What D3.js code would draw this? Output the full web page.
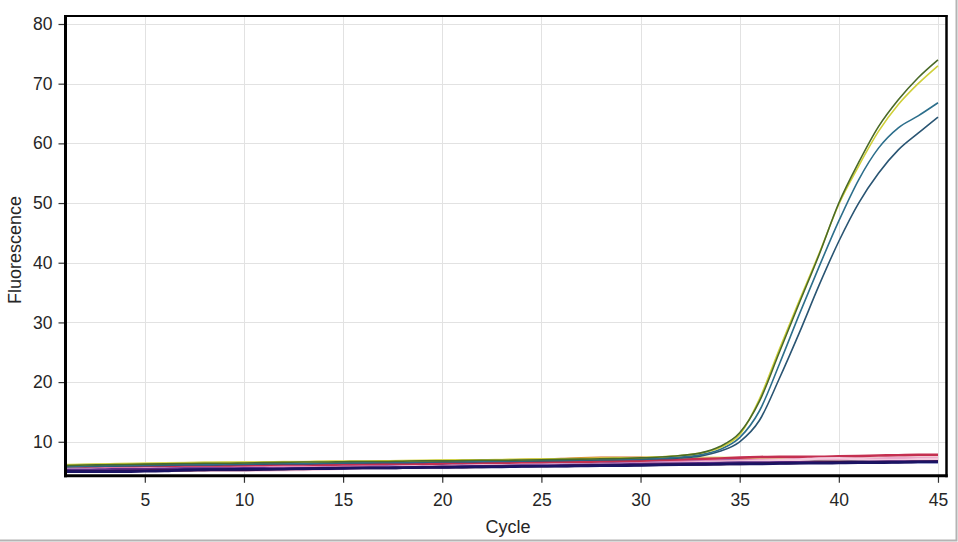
<!DOCTYPE html>
<html>
<head>
<meta charset="utf-8">
<script src="https://cdn.jsdelivr.net/npm/d3@7"></script>
<style>
  html, body { margin: 0; padding: 0; background: #fff; }
  svg { display: block; font-family: "Liberation Sans", Arial, sans-serif; }
</style>
</head>
<body>
<svg id="svg"></svg>
<script>
// cycles 1..45
const cycles = d3.range(1, 46)

const xTicks = [5, 10, 15, 20, 25, 30, 35, 40, 45]
const yTicks = [10, 20, 30, 40, 50, 60, 70, 80]

// flat (non amplifying) wells
const orangeWell = [5.8,5.85,5.9,5.95,6.0,6.05,6.1,6.15,6.2,6.2,6.25,6.3,6.35,6.4,6.45,6.5,6.55,6.6,6.65,6.7,6.75,6.8,6.85,6.95,7.0,7.1,7.25,7.3,7.3,7.3,7.25,7.2,7.15,7.1,7.1,7.05,7.0,7.0,7.0,6.95,6.95,6.9,6.9,6.9,6.9]
const grayBlueWell = [5.7,5.7,5.75,5.8,5.8,5.85,5.9,5.9,5.95,5.95,6.0,6.0,6.0,6.05,6.05,6.1,6.1,6.15,6.15,6.2,6.2,6.25,6.25,6.3,6.35,6.35,6.4,6.45,6.5,6.5,6.55,6.6,6.65,6.7,6.7,6.7,6.75,6.75,6.8,6.8,6.8,6.85,6.85,6.85,6.85]
const darkGreenWell = [5.9,5.95,6.0,6.05,6.15,6.15,6.2,6.25,6.3,6.3,6.35,6.4,6.45,6.5,6.5,6.55,6.6,6.6,6.65,6.7,6.7,6.75,6.8,6.85,6.85,6.9,6.95,7.0,7.0,7.05,7.1,7.1,7.1,7.05,7.0,6.95,6.9,6.9,6.85,6.85,6.8,6.8,6.8,6.75,6.75]
const oliveWell = [6.0,6.1,6.15,6.15,6.2,6.25,6.3,6.35,6.4,6.4,6.45,6.5,6.55,6.6,6.6,6.65,6.7,6.7,6.75,6.8,6.8,6.85,6.9,6.9,6.95,7.0,7.0,7.05,7.1,7.1,7.15,7.2,7.2,7.15,7.1,7.05,7.0,7.0,6.95,6.95,6.9,6.9,6.9,6.85,6.85]
const yellowWell = [6.1,6.15,6.2,6.3,6.35,6.4,6.45,6.5,6.5,6.55,6.55,6.6,6.6,6.65,6.65,6.7,6.7,6.75,6.8,6.85,6.9,6.9,6.95,7.0,7.0,7.05,7.1,7.15,7.2,7.25,7.3,7.3,7.3,7.3,7.25,7.2,7.2,7.15,7.15,7.1,7.1,7.1,7.05,7.05,7.05]
const blueWell = [5.2,5.25,5.3,5.35,5.4,5.45,5.5,5.55,5.6,5.6,5.65,5.7,5.75,5.75,5.8,5.85,5.9,5.9,5.95,6.0,6.0,6.05,6.1,6.15,6.2,6.25,6.3,6.35,6.45,6.55,6.7,6.85,7.0,6.9,6.8,6.7,6.65,6.65,6.6,6.6,6.6,6.6,6.6,6.6,6.6]
const redWell = [5.6,5.65,5.7,5.75,5.8,5.85,5.9,5.95,6.0,6.0,6.05,6.1,6.1,6.15,6.2,6.2,6.25,6.3,6.3,6.35,6.4,6.4,6.45,6.5,6.55,6.6,6.65,6.7,6.75,6.8,6.9,7.0,7.1,7.2,7.35,7.45,7.5,7.5,7.5,7.55,7.6,7.7,7.75,7.8,7.8]
const pinkWell = [5.4,5.45,5.5,5.5,5.55,5.55,5.6,5.6,5.6,5.65,5.7,5.75,5.75,5.7,5.75,5.8,5.8,5.85,5.85,5.9,5.95,6.0,6.05,6.1,6.1,6.15,6.2,6.25,6.3,6.4,6.5,6.6,6.7,6.8,6.85,6.95,7.0,7.05,7.1,7.1,7.15,7.15,7.2,7.2,7.2]
const lightPinkWell = [5.5,5.4,5.35,5.3,5.3,5.25,5.25,5.2,5.2,5.2,5.2,5.25,5.3,5.4,5.5,5.6,5.7,5.8,5.85,5.9,5.95,6.0,6.05,6.1,6.1,6.15,6.15,6.2,6.2,6.25,6.3,6.4,6.5,6.6,6.7,6.8,6.9,7.0,7.2,7.25,7.1,7.0,7.0,7.05,7.1]
const purpleWell = [5.3,5.3,5.35,5.4,5.4,5.45,5.5,5.5,5.5,5.55,5.55,5.5,5.5,5.55,5.6,5.65,5.7,5.7,5.75,5.8,5.85,5.9,5.95,6.0,6.0,6.05,6.1,6.15,6.2,6.25,6.3,6.35,6.4,6.45,6.5,6.5,6.55,6.55,6.6,6.6,6.65,6.65,6.7,6.7,6.75]
const darkPurpleWell = [5.1,5.05,5.05,5.1,5.15,5.2,5.2,5.25,5.3,5.3,5.35,5.4,5.45,5.55,5.6,5.6,5.6,5.65,5.7,5.75,5.75,5.8,5.85,5.9,5.9,5.95,6.0,6.0,6.05,6.1,6.15,6.2,6.2,6.25,6.3,6.35,6.4,6.45,6.5,6.55,6.55,6.6,6.6,6.65,6.7]
const navyWell = [5.0,5.0,5.0,5.0,5.05,5.1,5.3,5.35,5.35,5.4,5.4,5.45,5.5,5.5,5.55,5.6,5.6,5.65,5.7,5.7,5.75,5.8,5.8,5.85,5.9,5.9,5.95,6.0,6.0,6.05,6.1,6.15,6.2,6.25,6.3,6.3,6.35,6.4,6.4,6.45,6.5,6.5,6.55,6.6,6.6]

// amplifying wells
const blue2Well = [5.8,5.85,5.9,5.95,6.0,6.05,6.1,6.1,6.15,6.2,6.25,6.3,6.3,6.35,6.4,6.45,6.5,6.5,6.55,6.6,6.6,6.65,6.7,6.75,6.8,6.85,6.9,6.95,7.0,7.05,7.15,7.3,7.6,8.4,10.0,13.6,20.6,28.2,36.2,43.6,50.0,55.0,58.9,61.7,64.4]
const blue1Well = [5.9,5.95,6.0,6.05,6.1,6.15,6.2,6.2,6.25,6.3,6.35,6.4,6.4,6.45,6.5,6.55,6.6,6.6,6.65,6.7,6.7,6.75,6.8,6.85,6.9,6.95,7.0,7.05,7.1,7.15,7.25,7.45,7.8,8.7,10.7,15.2,23.0,31.3,39.3,47.0,53.9,59.2,62.6,64.6,66.8]
const yellowAmp = [6.1,6.2,6.25,6.3,6.35,6.4,6.45,6.5,6.55,6.55,6.6,6.65,6.65,6.7,6.75,6.75,6.8,6.85,6.85,6.9,6.95,7.0,7.0,7.05,7.1,7.15,7.2,7.25,7.3,7.35,7.5,7.7,8.1,9.0,11.2,17.2,25.5,33.6,41.5,49.8,56.2,62.0,66.5,70.0,73.0]
const greenAmp = [6.0,6.1,6.15,6.2,6.25,6.3,6.35,6.4,6.4,6.45,6.5,6.55,6.6,6.6,6.65,6.7,6.7,6.75,6.8,6.8,6.85,6.9,6.9,6.95,7.0,7.05,7.1,7.15,7.2,7.3,7.45,7.7,8.1,9.2,11.5,16.8,25.0,33.2,41.3,50.0,56.8,62.8,67.3,71.0,74.0]

const wells = [
  { values: orangeWell, color: "#d4691f", amp: false },
  { values: grayBlueWell, color: "#8798ad", amp: false },
  { values: darkGreenWell, color: "#2e6b4f", amp: false },
  { values: oliveWell, color: "#8da82e", amp: false },
  { values: yellowWell, color: "#e2df78", amp: false },
  { values: blueWell, color: "#2b48c8", amp: false },
  { values: redWell, color: "#c42f50", amp: false },
  { values: pinkWell, color: "#e58cba", amp: false },
  { values: lightPinkWell, color: "#f4cadd", amp: false },
  { values: purpleWell, color: "#5c2d8a", amp: false },
  { values: darkPurpleWell, color: "#3a0f45", amp: false },
  { values: navyWell, color: "#1b1464", amp: false },
  { values: blue2Well, color: "#2a5573", amp: true },
  { values: blue1Well, color: "#2d6f8c", amp: true },
  { values: yellowAmp, color: "#cfd03a", amp: true },
  { values: greenAmp, color: "#4a6a28", amp: true }
]

const width = 958, height = 542
const mLeft = 65.5, mRight = 946.5, mTop = 16, mBottom = 475.8
const font = "\"Liberation Sans\", Arial, sans-serif"

const svg = d3.select("#svg").attr("width", width).attr("height", height)

// outer frame (bottom and right edges)
svg.append("path")
  .attr("d", `M0,${height - 1.5}H${width - 1.5}V0`)
  .attr("fill", "none")
  .attr("stroke", "#b4b4b4")
  .attr("stroke-width", 2)

const x = d3.scaleLinear().domain([1, 45.43]).range([mLeft, mRight])
const y = d3.scaleLinear().domain([4.3, 81.34]).range([mBottom, mTop])

// grid
const grid = svg.append("g").attr("stroke", "#e2e2e2").attr("stroke-width", 1)
grid.selectAll("line.vx").data(xTicks).enter().append("line")
  .attr("x1", d => Math.round(x(d)) + 0.5).attr("x2", d => Math.round(x(d)) + 0.5)
  .attr("y1", mTop).attr("y2", mBottom)
grid.selectAll("line.hy").data(yTicks).enter().append("line")
  .attr("x1", mLeft).attr("x2", mRight)
  .attr("y1", d => Math.round(y(d)) + 0.5).attr("y2", d => Math.round(y(d)) + 0.5)

// curves
svg.append("clipPath").attr("id", "clip").append("rect")
  .attr("x", mLeft).attr("y", mTop).attr("width", mRight - mLeft).attr("height", mBottom - mTop)
const plot = svg.append("g").attr("clip-path", "url(#clip)")

const line = d3.line()
  .x((d, i) => x(cycles[i]))
  .y(d => y(d))
  .curve(d3.curveMonotoneX)

plot.selectAll("path.well")
  .data(wells)
  .enter()
  .append("path")
  .classed("well", true)
  .attr("d", d => line(d.values))
  .attr("fill", "none")
  .attr("stroke", d => d.color)
  .attr("stroke-width", d => d.amp ? 1.6 : 2.6)
  .attr("stroke-linejoin", "round")

// axes
const xAxis = svg.append("g")
  .attr("transform", `translate(0,${mBottom})`)
  .call(d3.axisBottom(x).tickValues(xTicks).tickSize(7).tickPadding(11))
const yAxis = svg.append("g")
  .attr("transform", `translate(${mLeft},0)`)
  .call(d3.axisLeft(y).tickValues(yTicks).tickSize(7).tickPadding(6))

for (const ax of [xAxis, yAxis]) {
  ax.select(".domain").remove()
  ax.selectAll(".tick line").attr("stroke", "#333").attr("stroke-width", 1.2)
  ax.selectAll(".tick text")
    .attr("font-family", font)
    .attr("font-size", 17.5)
    .attr("fill", "#262626")
}

// frame
svg.append("line").attr("x1", mLeft - 1.5).attr("x2", mRight + 1).attr("y1", mTop).attr("y2", mTop)
  .attr("stroke", "#000").attr("stroke-width", 2)
svg.append("line").attr("x1", mRight).attr("x2", mRight).attr("y1", mTop - 1).attr("y2", mBottom + 1.5)
  .attr("stroke", "#000").attr("stroke-width", 2.5)
svg.append("line").attr("x1", mLeft).attr("x2", mLeft).attr("y1", mTop - 1).attr("y2", mBottom + 1.5)
  .attr("stroke", "#000").attr("stroke-width", 3)
svg.append("line").attr("x1", mLeft - 1.5).attr("x2", mRight + 1.2).attr("y1", mBottom).attr("y2", mBottom)
  .attr("stroke", "#000").attr("stroke-width", 3)

// titles
svg.append("text")
  .attr("x", (mLeft + mRight) / 2 + 2)
  .attr("y", 533)
  .attr("text-anchor", "middle")
  .attr("font-family", font)
  .attr("font-size", 18)
  .attr("fill", "#262626")
  .text("Cycle")

svg.append("text")
  .attr("transform", `translate(21,${(mTop + mBottom) / 2 + 4}) rotate(-90)`)
  .attr("text-anchor", "middle")
  .attr("font-family", font)
  .attr("font-size", 18)
  .attr("fill", "#262626")
  .text("Fluorescence")
</script>
</body>
</html>
